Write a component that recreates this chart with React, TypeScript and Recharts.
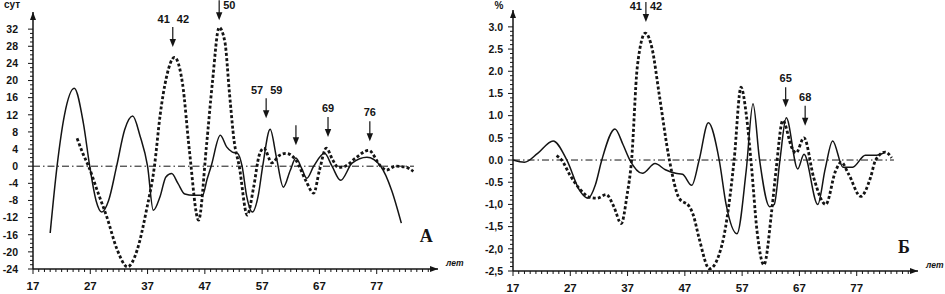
import React from "react";
import { LineChart, Line, XAxis, YAxis, ReferenceLine, ReferenceDot } from "recharts";

// Panel A (сут)
const aSolidYears = [20, 21.2, 22.5, 24.2, 25.8, 26.9, 28, 29, 30.2, 31.6, 33, 34.4, 35.7, 37, 38, 39.2, 40.2, 41.2, 42.3, 43.5, 45, 46.6, 47.4, 48.1, 49.7, 50.8, 51.8, 52.7, 53.5, 54.3, 55.3, 56.3, 57.1, 58.4, 59.5, 60.7, 61.9, 62.9, 63.9, 64.8, 66, 67.9, 69.2, 70.7, 72.7, 75.3, 77.7, 79.6, 81.3];
const aSolidDays = [-15.6, 0, 12, 18.2, 10, 0, -8, -10.7, -8, 0, 8.5, 11.7, 7, 0, -10.3, -7, -2.5, -1.7, -4, -6.5, -6.8, -6.8, -3, 0, 7.2, 4.5, 3.3, 3.0, 0, -7, -10.7, -7, 0, 8.6, 2, -4.9, -1, 1.9, -0.5, -2.8, 0, 3.0, 0, -3.3, 0.7, 2.1, 0, -5.6, -13.3];
const aDottedYears = [24.7, 25.7, 26.7, 28.3, 29.9, 31.7, 33.5, 35.2, 36.8, 38.2, 39.2, 40.3, 41.7, 43.1, 44.3, 45.9, 47.3, 48.3, 49.5, 50.5, 51.3, 52.1, 53, 54.4, 55.5, 56.5, 57.3, 58.7, 60, 61.2, 62.9, 64.6, 66, 67, 68.2, 69.3, 70.3, 71.5, 73.3, 75.6, 77.7, 78.7, 80.3, 82, 83.4];
const aDottedDays = [6.5, 3, 0, -6, -11.9, -19.5, -23.5, -19.5, -10.3, 0, 12, 20.8, 25.4, 19.3, 3.7, -12.6, 5, 19.3, 32.4, 29, 17, 6, 0, -11.4, -5, 2.6, 4.2, 0.8, 2.5, 3.0, 1.4, -3.3, -6.3, -1, 4.2, 1.5, -0.3, 0, 1.9, 3.7, 0, -0.9, 0, -0.2, -1.2];

// Panel Б (%)
const bSolidYears = [17, 19, 21.3, 24, 26.4, 28.7, 30.1, 31.4, 32.5, 34.8, 36.2, 37.4, 39.6, 41.8, 43.6, 45.4, 46.6, 48.2, 49.5, 51.1, 53, 54.2, 56.1, 57.7, 58.9, 60, 61.8, 62.6, 63.6, 64.7, 66.7, 67.8, 70.2, 71.5, 72.8, 74.6, 76.3, 78.5, 80.5, 81.8];
const bSolidPct = [0, -0.05, 0.15, 0.43, 0, -0.7, -0.86, -0.55, 0, 0.7, 0.35, 0, -0.3, -0.08, -0.22, -0.3, -0.32, -0.57, 0, 0.84, 0, -1.0, -1.66, -0.25, 1.27, 0.05, -1.05, -1.0, 0, 0.95, -0.2, 0.13, -1.0, -0.2, 0.43, -0.16, -0.16, 0.11, 0.11, 0.16];
const bDottedYears = [24.6, 25.5, 26.9, 28.7, 30.4, 31.6, 33.3, 34.6, 35.9, 36.9, 37.7, 38.7, 40.1, 41.3, 42.5, 44.3, 46, 47.8, 48.5, 49.5, 51.3, 53.5, 54.7, 55.6, 56.8, 57.7, 58.6, 59.6, 60.8, 62.2, 62.9, 64.1, 65.7, 66.4, 67.8, 69.5, 71.6, 73.3, 74.3, 75.6, 77.7, 79.4, 80.3, 82, 83.1];
const bDottedPct = [0.1, 0, -0.33, -0.66, -0.84, -0.86, -0.78, -1.05, -1.43, -0.8, 0, 2.1, 2.86, 2.5, 1.5, 0, -0.86, -1.05, -1.25, -1.77, -2.45, -1.9, -1.0, 0, 1.64, 1.05, -0.1, -1.6, -2.36, -1.1, -0.25, 0.89, 0.27, 0.16, 0.5, -0.4, -1.0, -0.25, -0.05, -0.32, -0.82, -0.4, 0, 0.18, 0.05];

// axes
const xLabelYears = [17, 27, 37, 47, 57, 67, 77];
const aYLabels = [32, 28, 24, 20, 16, 12, 8, 4, 0, -4, -8, -12, -16, -20, -24];
const bYLabelValues = [3, 2.5, 2, 1.5, 1, 0.5, 0, -0.5, -1, -1.5, -2, -2.5];
const bYLabelText = ["3.0", "2.5", "2.0", "1.5", "1.0", "0.5", "0.0", "-0.5", "-1,0", "-1,5", "-2,0", "-2,5"];

// arrows pointing at peaks
const aArrowYears = [41.4, 49.5, 57.7, 62.9, 68.5, 75.8];
const aArrowDays = [27.8, 34.1, 11.2, 4.9, 6.8, 5.8];
const aArrowLabels = [["41", "42"], ["50"], ["57", "59"], [], ["69"], ["76"]];
const aArrowBeside = [false, true, false, false, false, false];
const bArrowYears = [40.2, 64.6, 68];
const bArrowPct = [3.11, 1.19, 0.77];
const bArrowLabels = [["41", "42"], ["65"], ["68"]];
const bArrowBeside = [true, false, false];

const ink = "#141414";
const font = "'Liberation Sans', Arial, sans-serif";

const yearTicks = Array.from({ length: 70 }, (_, i) => 17 + i);
const aDayTicks = Array.from({ length: 57 }, (_, i) => -24 + i);
const bPctTicks = Array.from({ length: 56 }, (_, i) => Math.round(-25 + i) / 10);

const pts = (xs: number[], ys: number[]) => xs.map((x, i) => ({ x, v: ys[i] }));

function XTick(props: any) {
  const { x, y, payload } = props;
  const major = xLabelYears.includes(payload.value);
  return (
    <g>
      <line x1={x} x2={x} y1={y} y2={y + (major ? 5 : 3)} stroke={ink} strokeWidth={1} />
      {major && (
        <text x={x} y={y + 21} textAnchor="middle" fontFamily={font} fontWeight="bold" fontSize={11.5} fill={ink}>
          {payload.value}
        </text>
      )}
    </g>
  );
}

function makeYTick(values: number[], texts: string[], gap: number) {
  return (props: any) => {
    const { x, y, payload } = props;
    const idx = values.findIndex((v) => Math.abs(v - payload.value) < 1e-6);
    return (
      <g>
        <line x1={x} x2={x - (idx >= 0 ? 5 : 3)} y1={y} y2={y} stroke={ink} strokeWidth={1} />
        {idx >= 0 && (
          <text x={x - gap} y={y} dy="0.36em" textAnchor="end" fontFamily={font} fontWeight="bold" fontSize={10.5} fill={ink}>
            {texts[idx]}
          </text>
        )}
      </g>
    );
  };
}

function arrowShape(labels: string[], beside: boolean) {
  return (p: any) => {
    const { cx, cy } = p;
    const top = cy - 20;
    const txt = (tx: number, ty: number, anchor: string, s: string) => (
      <text key={s} x={tx} y={ty} textAnchor={anchor} fontFamily={font} fontWeight="bold" fontSize={11} fill={ink}>{s}</text>
    );
    let lab: any[] = [];
    if (beside) {
      lab = labels.length === 2
        ? [txt(cx - 4, top + 8, "end", labels[0]), txt(cx + 4, top + 8, "start", labels[1])]
        : [txt(cx + 4, top + 9, "start", labels[0])];
    } else if (labels.length === 2) {
      lab = [txt(cx - 3, top - 4, "end", labels[0]), txt(cx + 4, top - 4, "start", labels[1])];
    } else if (labels.length === 1) {
      lab = [txt(cx, top - 5, "middle", labels[0])];
    }
    return (
      <g>
        <line x1={cx} x2={cx} y1={top} y2={cy - 6} stroke={ink} strokeWidth={1.2} />
        <path d={`M${cx - 3.2},${cy - 8} L${cx + 3.2},${cy - 8} L${cx},${cy} Z`} fill={ink} />
        {lab}
      </g>
    );
  };
}

const upArrow = (unit: string, dx: number, dy: number) => (p: any) => (
  <g>
    <path d={`M${p.cx - 3},${p.cy + 8} L${p.cx},${p.cy} L${p.cx + 3},${p.cy + 8} Z`} fill={ink} />
    <text x={p.cx + dx} y={p.cy + dy} textAnchor="middle" fontFamily={font} fontWeight="bold" fontSize={10} fill={ink}>{unit}</text>
  </g>
);

const rightArrow = (p: any) => (
  <g>
    <path d={`M${p.cx - 8},${p.cy - 3} L${p.cx},${p.cy} L${p.cx - 8},${p.cy + 3} Z`} fill={ink} />
    <text x={p.cx + 8} y={p.cy - 3} fontFamily={font} fontWeight="bold" fontStyle="italic" fontSize={8.5} fill={ink}>лет</text>
  </g>
);

const letterShape = (s: string) => (p: any) => (
  <text x={p.cx} y={p.cy} fontFamily="'Liberation Serif', 'Times New Roman', serif" fontWeight="bold" fontSize={18} fill={ink}>{s}</text>
);

function Panel(p: any) {
  const [y0, y1] = p.yDomain;
  return (
    <LineChart width={p.width} height={294} margin={{ top: p.top, right: p.right, bottom: 0, left: 0 }}>
      <XAxis dataKey="x" type="number" domain={[17, 87.7]} allowDataOverflow ticks={yearTicks} interval={0}
        tick={XTick} tickLine={false} tickSize={0} tickMargin={0} height={p.xAxisHeight}
        axisLine={{ stroke: ink, strokeWidth: 1.5 }} />
      <YAxis type="number" domain={p.yDomain} allowDataOverflow ticks={p.yTicks} interval={0}
        tick={makeYTick(p.yLabelValues, p.yLabelText, p.labelGap)} tickLine={false} tickSize={0} tickMargin={0}
        width={p.yAxisWidth} axisLine={{ stroke: ink, strokeWidth: 1.5 }} />
      <ReferenceLine segment={[{ x: 17, y: 0 }, { x: 83.5, y: 0 }]} stroke={ink} strokeWidth={1}
        strokeDasharray="7 3 1.5 3" ifOverflow="visible" />
      <Line data={p.solid} dataKey="v" type="monotone" stroke={ink} strokeWidth={1.5} dot={false} isAnimationActive={false} />
      <Line data={p.dotted} dataKey="v" type="monotone" stroke={ink} strokeWidth={2.8} strokeDasharray="3 2.2"
        dot={false} isAnimationActive={false} />
      <ReferenceDot x={17} y={y1} r={0} ifOverflow="visible" shape={upArrow(p.unit, p.unitDx, p.unitDy)} />
      <ReferenceDot x={87.7} y={y0} r={0} ifOverflow="visible" shape={rightArrow} />
      {p.arrowYears.map((yr: number, i: number) => (
        <ReferenceDot key={i} x={yr} y={p.arrowValues[i]} r={0} ifOverflow="visible"
          shape={arrowShape(p.arrowLabels[i], p.arrowBeside[i])} />
      ))}
      <ReferenceDot x={p.letterAt[0]} y={p.letterAt[1]} r={0} ifOverflow="visible" shape={letterShape(p.letter)} />
    </LineChart>
  );
}

export default function App() {
  return (
    <div style={{ position: "absolute", left: 0, top: 0, width: 945, height: 294, background: "#fff" }}>
      <div style={{ position: "absolute", left: 0, top: 0 }}>
        <Panel width={470} yAxisWidth={33} top={12} right={32} xAxisHeight={25}
          yDomain={[-24, 36]} yTicks={aDayTicks} yLabelValues={aYLabels} yLabelText={aYLabels.map(String)} labelGap={15}
          solid={pts(aSolidYears, aSolidDays)} dotted={pts(aDottedYears, aDottedDays)}
          arrowYears={aArrowYears} arrowValues={aArrowDays} arrowLabels={aArrowLabels} arrowBeside={aArrowBeside}
          unit="сут" unitDx={-21} unitDy={-4} letter="A" letterAt={[84.5, -17.7]} />
      </div>
      <div style={{ position: "absolute", left: 470, top: 0 }}>
        <Panel width={475} yAxisWidth={43} top={10} right={27} xAxisHeight={23}
          yDomain={[-2.5, 3.38]} yTicks={bPctTicks} yLabelValues={bYLabelValues} yLabelText={bYLabelText} labelGap={10}
          solid={pts(bSolidYears, bSolidPct)} dotted={pts(bDottedYears, bDottedPct)}
          arrowYears={bArrowYears} arrowValues={bArrowPct} arrowLabels={bArrowLabels} arrowBeside={bArrowBeside}
          unit="%" unitDx={-14} unitDy={-1} letter="Б" letterAt={[84.2, -2.09]} />
      </div>
    </div>
  );
}
